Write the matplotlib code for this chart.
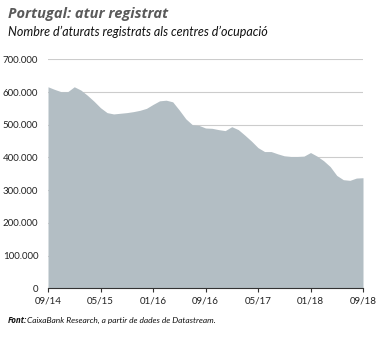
import matplotlib
matplotlib.use("Agg")
import matplotlib.pyplot as plt
import numpy as np
import pandas as pd
from matplotlib.ticker import FuncFormatter

# Monthly registered unemployment, Sep 2014 - Sep 2018 (thousands)
months = pd.date_range("2014-09-01", "2018-09-01", freq="MS")
values_k = [616, 608, 601, 601, 616, 606, 590, 572, 552, 537,
            533, 535, 537, 540, 544, 550, 562, 573, 575, 570,
            545, 518, 500, 498, 490, 489, 485, 482, 494, 485,
            468, 450, 430, 418, 418, 411, 405, 403, 403, 404,
            415, 404, 390, 372, 345, 332, 330, 337, 338]
values = np.array(values_k) * 1000

xtick_labels = ["09/14", "05/15", "01/16", "09/16", "05/17", "01/18", "09/18"]
xtick_idx = [0, 8, 16, 24, 32, 40, 48]
yticks = [0, 100000, 200000, 300000, 400000, 500000, 600000, 700000]

plt.rcParams['font.family'] = ['Lato', 'DejaVu Sans']
bold_family = ['Open Sans', 'DejaVu Sans']

fig = plt.figure(figsize=(3.79, 3.38), dpi=100)
ax = fig.add_axes([48/379, 1 - 288.3/338, (363-48)/379, (288.3-59.3)/338])

x = np.arange(len(values))
ax.fill_between(x, 0, values, color="#b3bec4", linewidth=0, zorder=2)

ax.set_xlim(0, 48)
ax.set_ylim(0, 700000)
ax.set_yticks(yticks)
ax.yaxis.set_major_formatter(FuncFormatter(lambda v, p: "0" if v == 0 else f"{int(v):,}".replace(",", ".")))
ax.grid(axis="y", color="#cccccc", linewidth=0.8, zorder=1)
ax.set_axisbelow(True)
ax.set_xticks(xtick_idx)
ax.set_xticklabels(xtick_labels)

for s in ["top", "right", "left"]:
    ax.spines[s].set_visible(False)
ax.spines["bottom"].set_color("#333333")
ax.spines["bottom"].set_linewidth(0.8)
ax.spines["bottom"].set_zorder(3)
ax.tick_params(axis="y", length=0, labelsize=7, colors="#222222", pad=7)
ax.tick_params(axis="x", length=3, direction="out", color="#333333", labelsize=7, colors="#222222", pad=3)

fig.text(8/379, 1 - 14/338, "Portugal: atur registrat", fontsize=10.5, fontweight="bold",
         fontstyle="italic", color="#5a5a5a", va="center", ha="left", family=bold_family)
fig.text(8/379, 1 - 32/338, "Nombre d\u2019aturats registrats als centres d\u2019ocupaci\u00f3", fontsize=9,
         fontstyle="italic", color="#111111", va="center", ha="left")
fig.text(8/379, 1 - 323/338, "Font:", fontsize=5.8, fontweight="bold", fontstyle="italic",
         color="#111111", va="baseline", ha="left", family=bold_family)
fig.text(27/379, 1 - 323/338, "CaixaBank Research, a partir de dades de Datastream.", fontsize=6,
         fontstyle="italic", color="#111111", va="baseline", ha="left")

fig.savefig("out.png", dpi=100)
